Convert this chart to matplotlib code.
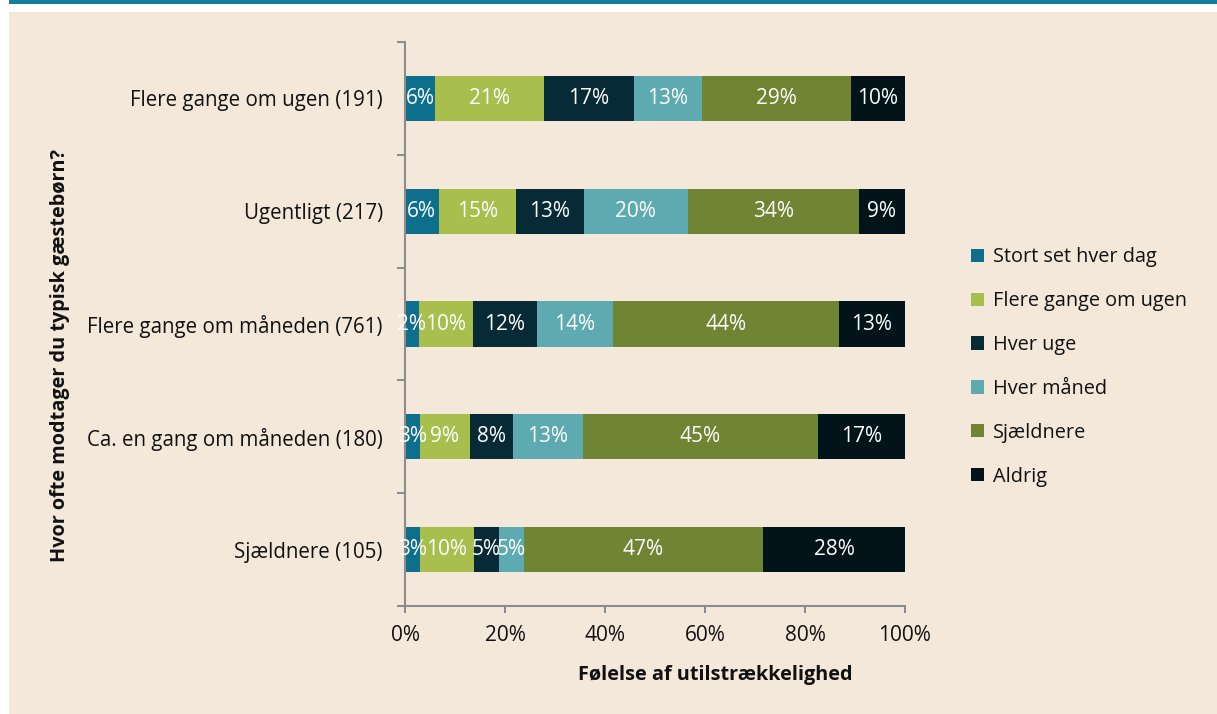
import matplotlib
matplotlib.use("Agg")
import matplotlib.pyplot as plt
from matplotlib.patches import Rectangle, Patch
import numpy as np

plt.rcParams['font.family'] = ['Open Sans', 'DejaVu Sans']

categories = [
    "Flere gange om ugen (191)",
    "Ugentligt (217)",
    "Flere gange om måneden (761)",
    "Ca. en gang om måneden (180)",
    "Sjældnere (105)",
]
series_names = ["Stort set hver dag", "Flere gange om ugen", "Hver uge",
                "Hver måned", "Sjældnere", "Aldrig"]

stort_set_hver_dag = [6.0, 6.7, 2.7, 3.0, 3.0]
flere_gange_om_ugen = [21.8, 15.5, 10.8, 9.9, 10.8]
hver_uge = [17.9, 13.6, 12.9, 8.7, 4.9]
hver_maaned = [13.7, 20.7, 15.2, 13.9, 5.0]
sjaeldnere = [29.8, 34.3, 45.2, 47.1, 47.9]
aldrig = [10.8, 9.2, 13.2, 17.4, 28.4]

labels_stort = ["6%", "6%", "2%", "3%", "3%"]
labels_flere = ["21%", "15%", "10%", "9%", "10%"]
labels_uge = ["17%", "13%", "12%", "8%", "5%"]
labels_maaned = ["13%", "20%", "14%", "13%", "5%"]
labels_sjaeld = ["29%", "34%", "44%", "45%", "47%"]
labels_aldrig = ["10%", "9%", "13%", "17%", "28%"]

x_ticks = [0, 20, 40, 60, 80, 100]
x_tick_labels = ["0%", "20%", "40%", "60%", "80%", "100%"]

colors = ["#0E6F8C", "#A8BE4D", "#062B36", "#5DABB0", "#6F8534", "#02141A"]

series = [stort_set_hver_dag, flere_gange_om_ugen, hver_uge, hver_maaned, sjaeldnere, aldrig]
series_labels = [labels_stort, labels_flere, labels_uge, labels_maaned, labels_sjaeld, labels_aldrig]

FS = 14.3
FS_BAR = 15
W, H = 1217, 714
fig = plt.figure(figsize=(W / 100, H / 100), dpi=100, facecolor="white")

# background panel and top band
fig.patches.append(Rectangle((9 / W, 0), 1 - 9 / W, (H - 12) / H, transform=fig.transFigure,
                             facecolor="#F4E8DB", edgecolor="none", zorder=-10))
fig.patches.append(Rectangle((9 / W, (H - 4) / H), 1 - 9 / W, 4 / H, transform=fig.transFigure,
                             facecolor="#137E9B", edgecolor="none", zorder=-10))

ax = fig.add_axes([405 / W, 108 / H, 500 / W, 564 / H])
ax.set_facecolor("none")
ax.set_zorder(5)

y = np.arange(len(categories))
left = np.zeros(len(categories))
for vals, labs, col, name in zip(series, series_labels, colors, series_names):
    vals = np.array(vals)
    ax.barh(y, vals, left=left, height=0.4, color=col, label=name, zorder=2)
    for yi, (l, v, t) in enumerate(zip(left, vals, labs)):
        ax.text(l + v / 2, yi, t, ha="center", va="center", color="white",
                fontsize=FS_BAR, zorder=3)
    left = left + vals

ax.set_xlim(0, 100)
ax.set_ylim(len(categories) - 0.5, -0.5)

ax.set_xticks(x_ticks)
ax.set_xticklabels(x_tick_labels, fontsize=FS_BAR, color="#111111")
ax.set_yticks(np.arange(len(categories) + 1) - 0.5)
ax.set_yticklabels([])
ax.set_yticks(y, minor=True)
ax.set_yticklabels(categories, minor=True, fontsize=14.8, color="#111111")
ax.tick_params(axis="y", which="minor", length=0, pad=16)
ax.tick_params(axis="y", which="major", length=6, width=1.5, color="#8C8C8C", direction="out")
ax.tick_params(axis="x", which="major", length=5, width=1.5, color="#8C8C8C", direction="out", pad=9)

for s in ["top", "right"]:
    ax.spines[s].set_visible(False)
for s in ["left", "bottom"]:
    ax.spines[s].set_color("#8C8C8C")
    ax.spines[s].set_linewidth(1.5)

fig.text(715 / W, 1 - 675 / H, "Følelse af utilstrækkelighed", ha="center", va="center",
         fontsize=FS, fontweight="bold", color="#111111")
fig.text(60 / W, 1 - 356 / H, "Hvor ofte modtager du typisk gæstebørn?", ha="center", va="center",
         rotation=90, fontsize=FS, fontweight="bold", color="#111111")

handles = [Patch(facecolor=c, edgecolor="none", label=n) for c, n in zip(colors, series_names)]
fig.legend(handles=handles, loc="center left", bbox_to_anchor=(953 / W, 1 - 367 / H),
           frameon=False, fontsize=FS, handlelength=0.65, handleheight=0.65,
           handletextpad=0.45, labelspacing=1.2, labelcolor="#111111")

fig.savefig("out.png", dpi=100, facecolor="white")
